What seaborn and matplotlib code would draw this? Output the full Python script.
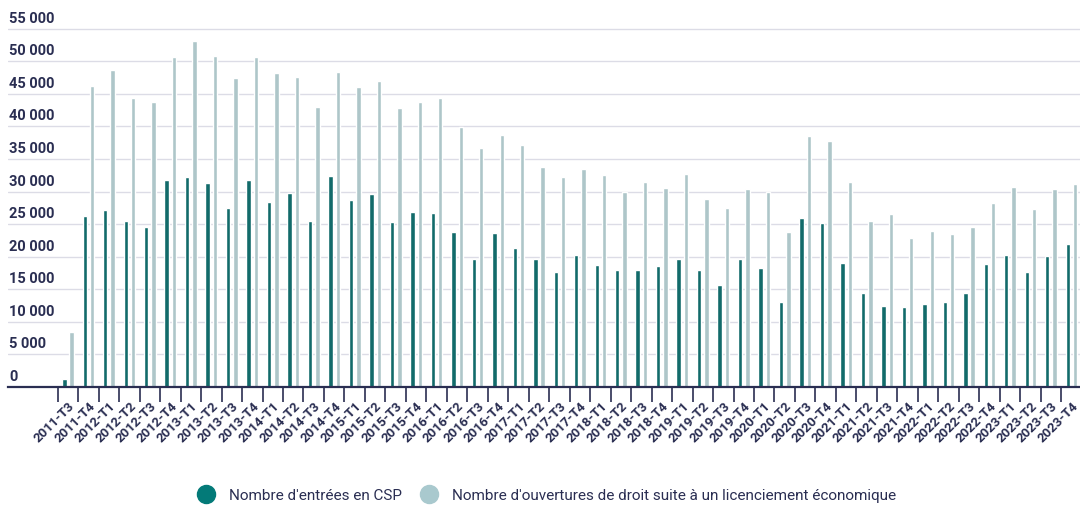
# %%
import matplotlib
matplotlib.use("Agg")
import matplotlib.pyplot as plt
import matplotlib.transforms as mtrans
from matplotlib.lines import Line2D
import numpy as np
import pandas as pd
import seaborn as sns

# %%
quarters = ["2011-T3", "2011-T4"] + [f"{y}-T{q}" for y in range(2012, 2024) for q in range(1, 5)]

entrees_csp = [
    1200, 26200,
    27100, 25500, 24600, 31800,
    32300, 31300, 27500, 31800,
    28400, 29800, 25500, 32400,
    28700, 29600, 25300, 26800,
    26700, 23800, 19700, 23600,
    21400, 19600, 17700, 20300,
    18700, 17900, 18000, 18500,
    19600, 18000, 15600, 19600,
    18300, 13000, 25900, 25200,
    19000, 14500, 12400, 12300,
    12700, 13100, 14500, 18900,
    20200, 17700, 20100, 22000,
]

ouvertures_droit = [
    8400, 46200,
    48700, 44400, 43800, 50700,
    53100, 50800, 47400, 50700,
    48200, 47600, 43000, 48300,
    46000, 46900, 42800, 43800,
    44400, 39900, 36700, 38700,
    37100, 33700, 32200, 33400,
    32500, 29900, 31500, 30600,
    32700, 28800, 27500, 30400,
    30000, 23800, 38600, 37700,
    31400, 25500, 26600, 22800,
    23900, 23500, 24600, 28300,
    30700, 27300, 30400, 31200,
]

lab_csp = "Nombre d'entrées en CSP"
lab_ouv = "Nombre d'ouvertures de droit suite à un licenciement économique"
y_ticks = list(range(0, 55001, 5000))

col_q = "Trimestre"
col_s = "Série"
col_v = "Valeur"

# %%
df = pd.concat([
    pd.DataFrame({col_q: quarters, col_s: lab_csp, col_v: entrees_csp}),
    pd.DataFrame({col_q: quarters, col_s: lab_ouv, col_v: ouvertures_droit}),
], axis=0)

c_dark = "#037a78"
c_light = "#a9c9ce"
c_navy = "#2a2e52"
c_grid = "#dcdce6"

sns.set_theme(style="white")
plt.rcParams["font.family"] = ["Roboto", "DejaVu Sans"]

fig = plt.figure(figsize=(10.8, 5.08), dpi=100)
ax = fig.add_axes([8 / 1080, 121 / 508, 1072 / 1080, 359 / 508])

sns.barplot(
    data=df,
    x=col_q,
    y=col_v,
    hue=col_s,
    order=quarters,
    hue_order=[lab_csp, lab_ouv],
    palette=[c_dark, c_light],
    width=0.72,
    gap=0.4,
    legend=False,
    ax=ax,
    zorder=3,
)

ax.set_xlim(-2.93, 49.42)
ax.set_ylim(0, 55100)
ax.set_xlabel("")
ax.set_ylabel("")

for s in ["top", "right", "left"]:
    ax.spines[s].set_visible(False)
ax.spines["bottom"].set_color(c_navy)
ax.spines["bottom"].set_linewidth(1.6)
ax.spines["bottom"].set_zorder(5)

# gridlines
ax.set_yticks(y_ticks)
ax.set_yticklabels([])
ax.tick_params(axis="y", length=0)
for v in y_ticks[1:]:
    ax.axhline(v, color=c_grid, lw=1.0, zorder=1)

trans = mtrans.offset_copy(ax.get_yaxis_transform(), fig=fig, x=1, y=3, units="dots")
for v in y_ticks:
    ax.text(0, v, f"{v:,}".replace(",", " "), transform=trans, ha="left", va="bottom",
            fontsize=10.5, fontweight="semibold", color=c_navy)

# x ticks: labels on groups, tick marks between groups
ax.set_xticks(np.arange(len(quarters)))
ax.set_xticklabels(quarters, rotation=45, ha="right", rotation_mode="anchor",
                   fontsize=9.5, fontweight="semibold", color=c_navy)
ax.set_xticks(np.arange(len(quarters)) - 0.5, minor=True)
ax.tick_params(axis="x", which="major", length=0, pad=9)
ax.tick_params(axis="x", which="minor", length=11, width=1.2, color=c_navy, bottom=True)

handles = [
    Line2D([], [], marker="o", ls="", markersize=13, markerfacecolor=c_dark, markeredgecolor=c_dark),
    Line2D([], [], marker="o", ls="", markersize=13, markerfacecolor=c_light, markeredgecolor=c_light),
]
fig.legend(handles, [lab_csp, lab_ouv], loc="center", bbox_to_anchor=(0.503, 0.024),
           ncol=2, frameon=False, fontsize=11, handletextpad=0.5, columnspacing=0.8,
           labelcolor=c_navy)

fig.savefig("out.png", dpi=100)
